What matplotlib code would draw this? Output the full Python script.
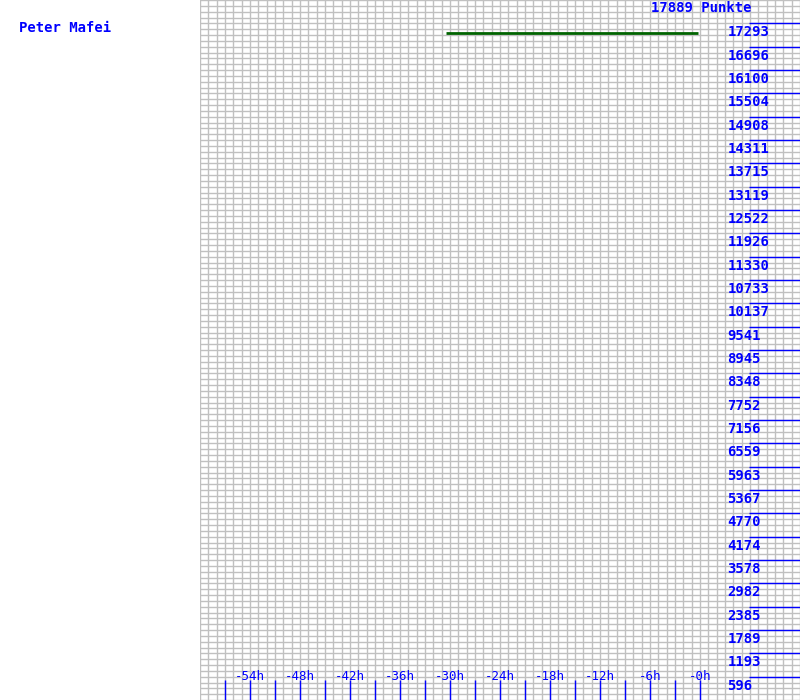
import matplotlib
matplotlib.use("Agg")
import matplotlib.pyplot as plt

# data
player = "Peter Mafei"
max_points = 17889
hours = [-30.5, -0.2]
points = [17045, 17045]

y_ticks = [596, 1193, 1789, 2385, 2982, 3578, 4174, 4770, 5367, 5963,
           6559, 7156, 7752, 8348, 8945, 9541, 10137, 10733, 11330, 11926,
           12522, 13119, 13715, 14311, 14908, 15504, 16100, 16696, 17293]
x_ticks = [-57, -54, -51, -48, -45, -42, -39, -36, -33, -30, -27, -24,
           -21, -18, -15, -12, -9, -6, -3, 0]
x_labels = ["-54h", "-48h", "-42h", "-36h", "-30h", "-24h", "-18h",
            "-12h", "-6h", "-0h"]
x_label_pos = [-54, -48, -42, -36, -30, -24, -18, -12, -6, 0]

blue = "#0000ff"
grid_col = "#c0c0c0"
mono = "DejaVu Sans Mono"

fig = plt.figure(figsize=(8, 7), dpi=100)
ax = fig.add_axes([0.25, 0, 0.75, 1])
ax.set_xlim(-60, 12)
ax.set_ylim(0, max_points)
ax.axis("off")

# fine grid: one column per hour, four rows per tick step
for h in range(-60, 13):
    ax.axvline(h, color=grid_col, lw=1, zorder=0)
step = max_points / 30
for k in range(0, 121):
    ax.axhline(k * step / 4, color=grid_col, lw=1, zorder=0)

# y ticks on the right
ax.hlines(y_ticks, 5.9, 12, color=blue, lw=1, zorder=2)
for v in y_ticks:
    ax.annotate(str(v), (3.3, v), xytext=(0, -1.5), textcoords="offset points",
                ha="left", va="top", color=blue, fontsize=10, family=mono,
                fontweight="bold")

# x ticks at the bottom
ax.vlines(x_ticks, 0, 511, color=blue, lw=1, zorder=2)
for pos, lab in zip(x_label_pos, x_labels):
    ax.text(pos, 600, lab, ha="center", va="center", color=blue,
            fontsize=9, family=mono, zorder=3)

ax.plot(hours, points, color="#006400", lw=2, solid_capstyle="butt", zorder=4)

ax.text(0.2, 17690, f"{max_points} Punkte", ha="center", va="center",
        color=blue, fontsize=10, family=mono, fontweight="bold")
fig.text(19 / 800, 1 - 28 / 700, player, ha="left", va="center",
         color=blue, fontsize=10, family=mono, fontweight="bold")

fig.savefig("out.png", dpi=100)
